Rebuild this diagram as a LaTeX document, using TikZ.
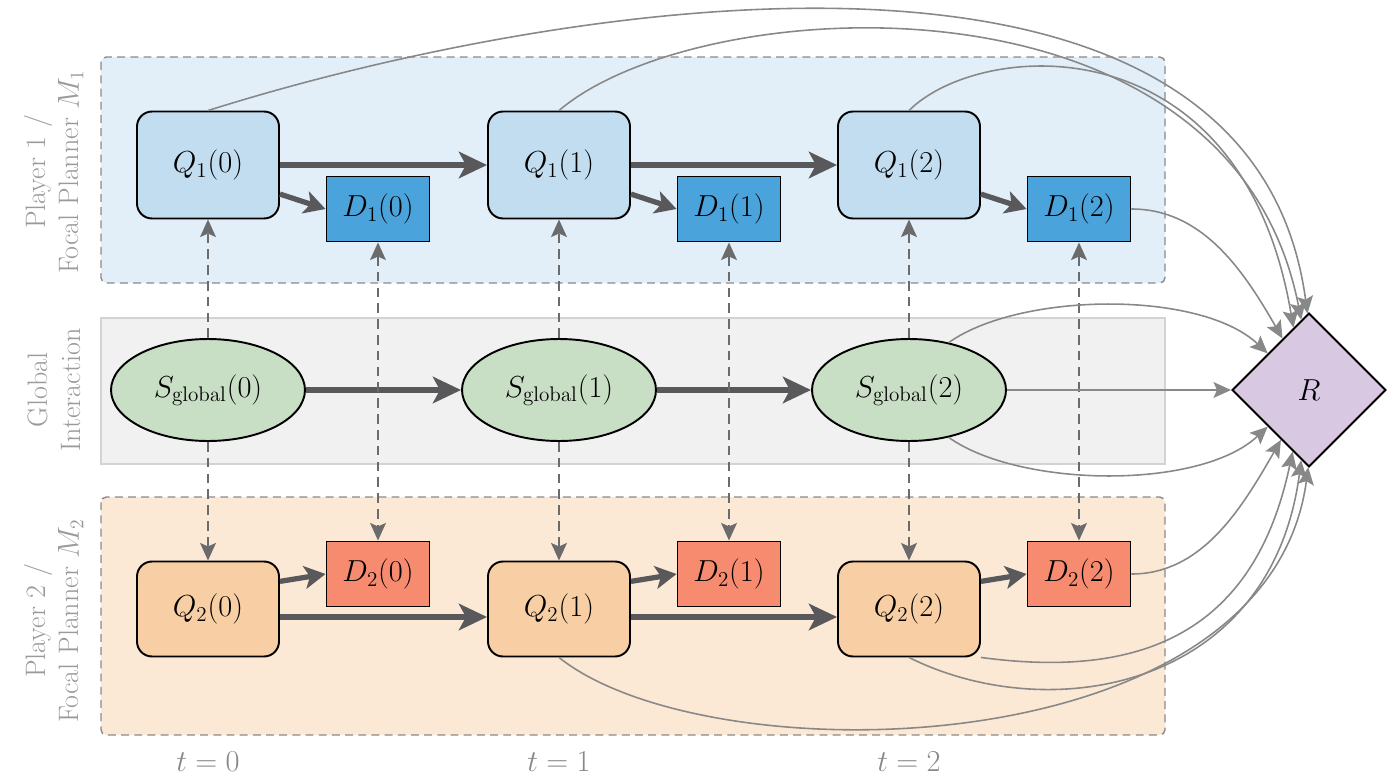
\documentclass[tikz,border=0pt]{standalone}
\usepackage{tikz}
\usetikzlibrary{arrows.meta, calc, shapes.geometric}
\definecolor{bandblue}{HTML}{E2EFF9}
\definecolor{qblue}{HTML}{C3DDF0}
\definecolor{dblue}{HTML}{4AA3DA}
\definecolor{bandgray}{HTML}{F1F1F1}
\definecolor{bandgrayline}{HTML}{D3D3D3}
\definecolor{sgreen}{HTML}{C9DFC5}
\definecolor{bandorange}{HTML}{FCE9D5}
\definecolor{qorange}{HTML}{F8CFA4}
\definecolor{dred}{HTML}{F68B6F}
\definecolor{rpurple}{HTML}{D9C8E2}
\definecolor{arrowdark}{HTML}{59595B}
\definecolor{curvegray}{HTML}{888888}
\definecolor{dashgray}{HTML}{6B6B6B}
\definecolor{bandline}{HTML}{8A8A8A}
\definecolor{labelgray}{HTML}{9A9A9A}

\begin{document}
\begin{tikzpicture}[x=0.02cm, y=-0.02cm, font=\fontsize{17}{20}\selectfont,
  band/.style={rounded corners=3pt, draw=bandline, dash pattern=on 4.5pt off 3pt, line width=0.8pt},
  qnode/.style={draw, line width=1.1pt, rounded corners=0.3cm, minimum width=2.84cm},
  dnode/.style={draw, line width=1.1pt, minimum width=2.06cm, minimum height=1.3cm},
  snode/.style={draw, ellipse, line width=1.1pt, fill=sgreen, minimum width=3.88cm, minimum height=2.04cm, inner sep=0pt},
  rownote/.style={rotate=90, align=center, text=labelgray, font=\fontsize{16}{19}\selectfont},
  flow/.style={draw=arrowdark, line width=3pt, -{Stealth[length=16pt,width=15pt,inset=4pt]}},
  short/.style={draw=arrowdark, line width=3pt, -{Stealth[length=12pt,width=13pt,inset=3pt]}},
  cue/.style={draw=dashgray, line width=1.1pt, dash pattern=on 5.5pt off 3.5pt, -{Stealth[length=10pt,width=9pt,inset=2pt]}},
  reward/.style={draw=curvegray, line width=0.9pt, -{Stealth[length=10pt,width=9pt,inset=2pt]}}]
\useasboundingbox (0,0) rectangle (1400,781);

% bands
\path[band, fill=bandblue] (101,57) rectangle (1165,283);
\path[draw=bandgrayline, line width=0.8pt, fill=bandgray] (101,318) rectangle (1165,464);
\path[band, fill=bandorange] (101,497) rectangle (1165,735);

\node[rownote] (lab1) at (54,172) {Player 1 /\\Focal Planner $M_1$};
\node[rownote] (lab0) at (54,390) {Global\\Interaction};
\node[rownote] (lab2) at (54,621) {Player 2 /\\Focal Planner $M_2$};

% nodes per time step
\foreach \t/\x in {0/208, 1/559, 2/909} {
  \node[qnode, fill=qblue, minimum height=2.14cm] (q1\t) at (\x,165) {$Q_1(\t)$};
  \node[dnode, fill=dblue] (d1\t) at (\x+170,209) {$D_1(\t)$};
  \node[snode] (s\t) at (\x,390) {$S_{\mathrm{global}}(\t)$};
  \node[qnode, fill=qorange, minimum height=1.9cm] (q2\t) at (\x,609) {$Q_2(\t)$};
  \node[dnode, fill=dred] (d2\t) at (\x+170,574) {$D_2(\t)$};
  \node[text=curvegray] (time\t) at (\x,762) {$t=\t$};
}

\node[diamond, draw, line width=1.1pt, fill=rpurple, minimum width=3.08cm, minimum height=3.08cm, inner sep=0pt] (R) at (1309,390) {$R$};

% transitions
\foreach \t/\n in {0/1, 1/2} {
  \draw[flow] (q1\t.east) -- (q1\n.west);
  \draw[flow] (s\t.east) -- (s\n.west);
  \draw[flow] ($(q2\t.east)+(0,8)$) -- ($(q2\n.west)+(0,8)$);
}
\foreach \t in {0,1,2} {
  \draw[short] (q1\t.-22) -- (d1\t.west);
  \draw[short] (q2\t.21) -- (d2\t.west);
  \draw[cue] (s\t.north) -- (q1\t.south);
  \draw[cue] (s\t.south) -- (q2\t.north);
  \draw[cue, {Stealth[length=10pt,width=9pt,inset=2pt]}-{Stealth[length=10pt,width=9pt,inset=2pt]}] (d1\t.south) -- (d2\t.north);
}

% links into R
\coordinate (r1) at ($(R.north)!0.02!(R.west)$);
\coordinate (r2) at ($(R.north)!0.10!(R.west)$);
\coordinate (r3) at ($(R.north)!0.20!(R.west)$);
\coordinate (r4) at ($(R.north)!0.34!(R.west)$);
\coordinate (r5) at ($(R.north)!0.53!(R.west)$);
\coordinate (r6) at ($(R.west)!0.47!(R.south)$);
\coordinate (r7) at ($(R.west)!0.64!(R.south)$);
\coordinate (r8) at ($(R.west)!0.79!(R.south)$);
\coordinate (r9) at ($(R.west)!0.90!(R.south)$);
\coordinate (r10) at ($(R.west)!0.99!(R.south)$);
\draw[reward] (q10.north) .. controls +(352,-111) and +(-57,-425) .. (r1);
\draw[reward] (q11.north) .. controls +(140,-120) and +(-70,-360) .. (r2);
\draw[reward] (q12.north) .. controls +(71,-71) and +(-52,-308) .. (r3);
\draw[reward] (d12.east) .. controls +(70,0) and +(-40,-70) .. (r4);
\draw[reward] (s2.50) .. controls +(70,-50) and +(-68,-64) .. (r5);
\draw[reward] (s2.east) -- (R.west);
\draw[reward] (s2.-50) .. controls +(70,50) and +(-68,64) .. (r6);
\draw[reward] (d22.east) .. controls +(70,0) and +(-40,70) .. (r7);
\draw[reward] (q22.south east) .. controls +(150,20) and +(-40,190) .. (r8);
\draw[reward] (q22.south) .. controls +(140,70) and +(-30,230) .. (r9);
\draw[reward] (q21.south) .. controls +(150,120) and +(-40,300) .. (r10);
\end{tikzpicture}
\end{document}
